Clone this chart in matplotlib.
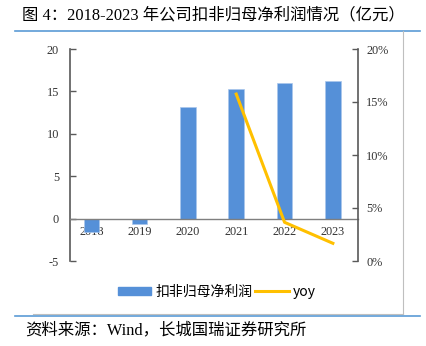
import matplotlib
matplotlib.use("Agg")
import matplotlib.pyplot as plt
from matplotlib.ticker import FuncFormatter
from matplotlib.lines import Line2D
from matplotlib.patches import Patch

years = ["2018", "2019", "2020", "2021", "2022", "2023"]
profit = [-1.6, -0.6, 13.2, 15.3, 16.0, 16.2]
yoy_years = [3, 4, 5]
yoy = [15.75, 3.65, 1.67]
left_ticks = [-5, 0, 5, 10, 15, 20]
right_ticks = [0, 5, 10, 15, 20]

bar_color = "#5590D8"
line_color = "#FFC000"
serif = ["Liberation Serif", "Noto Sans CJK SC"]
cjk = ["Noto Sans CJK SC", "DejaVu Sans"]

fig = plt.figure(figsize=(4.27, 3.46), dpi=100)
W, H = 427, 346

ax = fig.add_axes([70 / W, 1 - 261 / H, 288 / W, 212 / H])
x = list(range(len(years)))
ax.bar(x, profit, width=0.32, color=bar_color, edgecolor="#A9C6EC", linewidth=0.5, zorder=2)
ax.set_xlim(-0.44, 5.52)
ax.set_ylim(-5, 20)
ax.set_yticks(left_ticks)
ax.set_yticklabels([str(t) for t in left_ticks], fontfamily=serif, fontsize=8.8, color="#333333")
ax.tick_params(axis="y", direction="in", length=4.5, width=1, color="#595959", pad=8)
ax.spines["left"].set_color("#595959")
ax.spines["left"].set_linewidth(1.2)
ax.spines["right"].set_visible(False)
ax.spines["top"].set_visible(False)
ax.spines["bottom"].set_position(("data", 0))
ax.spines["bottom"].set_color("#7F7F7F")
ax.spines["bottom"].set_linewidth(1)
ax.set_xticks(x)
ax.set_xticklabels(years, fontfamily=serif, fontsize=8.8, color="#333333")
ax.tick_params(axis="x", length=0, pad=5)

ax2 = ax.twinx()
ax2.plot(yoy_years, yoy, color=line_color, linewidth=2.2, zorder=3)
ax2.set_ylim(0, 20)
ax2.set_yticks(right_ticks)
ax2.yaxis.set_major_formatter(FuncFormatter(lambda v, p: f"{v:.0f}%"))
for lab in ax2.get_yticklabels():
    lab.set_fontfamily(serif)
ax2.tick_params(axis="y", direction="in", length=4.5, width=1, color="#595959", pad=6, labelsize=8.8, labelcolor="#333333")
for s in ["left", "top", "bottom"]:
    ax2.spines[s].set_visible(False)
ax2.spines["right"].set_color("#595959")
ax2.spines["right"].set_linewidth(1.2)

handles = [Patch(facecolor=bar_color, edgecolor=bar_color), Line2D([0], [0], color=line_color, linewidth=2.2)]
fig.legend(handles, ["扣非归母净利润", "yoy"], loc="center", bbox_to_anchor=(217 / W, 1 - 292 / H),
           ncol=2, frameon=False, prop={"family": cjk, "size": 10}, handlelength=2.4,
           handletextpad=0.3, columnspacing=0.2, handleheight=0.55)

# title and frame lines
fig.text(22 / W, 1 - 15 / H, "图 4：2018-2023 年公司扣非归母净利润情况（亿元）", fontfamily=serif,
         fontsize=11.8, va="center", ha="left", color="#000000")
fig.add_artist(Line2D([15 / W, 420 / W], [1 - 31 / H, 1 - 31 / H], color="#5B9BD5", linewidth=1.2))
fig.add_artist(Line2D([403 / W, 403 / W], [1 - 31 / H, 1 - 314 / H], color="#BFBFBF", linewidth=0.8))
fig.add_artist(Line2D([33 / W, 403 / W], [1 - 314 / H, 1 - 314 / H], color="#BFBFBF", linewidth=0.8))
fig.add_artist(Line2D([15 / W, 420 / W], [1 - 316 / H, 1 - 316 / H], color="#5B9BD5", linewidth=1.2))
fig.text(25 / W, 1 - 330 / H, "资料来源：Wind，长城国瑞证券研究所", fontfamily=serif,
         fontsize=11.8, va="center", ha="left", color="#000000")

fig.savefig("out.png", dpi=100)
